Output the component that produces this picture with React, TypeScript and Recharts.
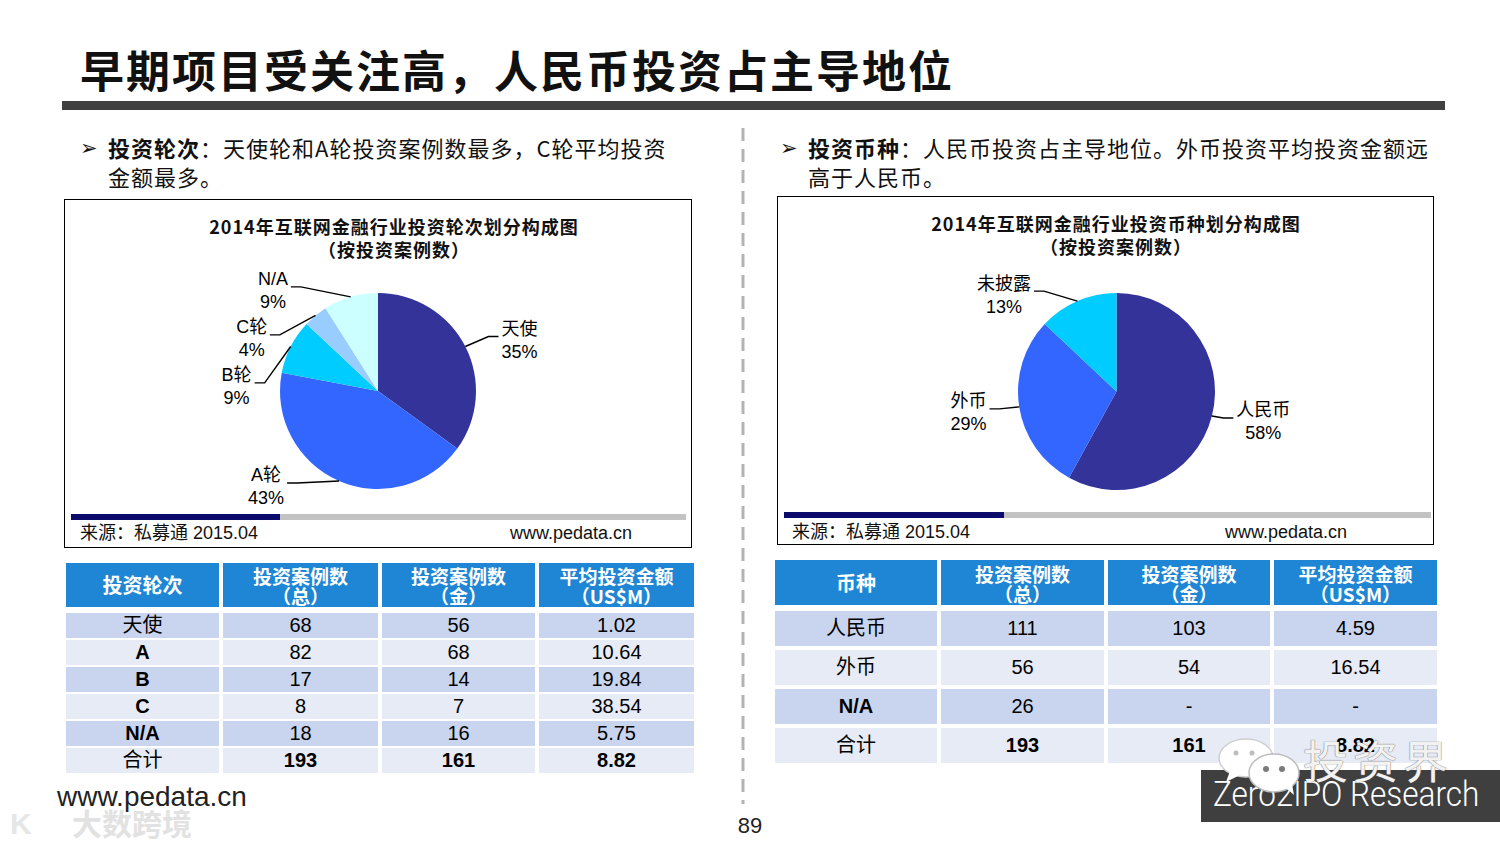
import React from 'react';
import { PieChart, Pie, Cell } from 'recharts';

// ---------------- data ----------------
const pageTitle = '早期项目受关注高，人民币投资占主导地位';

const leftBulletBold = '投资轮次';
const leftBulletLines = ['：天使轮和A轮投资案例数最多，C轮平均投资', '金额最多。'];
const rightBulletBold = '投资币种';
const rightBulletLines = ['：人民币投资占主导地位。外币投资平均投资金额远', '高于人民币。'];

const roundChartTitle = ['2014年互联网金融行业投资轮次划分构成图', '（按投资案例数）'];
const roundNames = ['天使', 'A轮', 'B轮', 'C轮', 'N/A'];
const roundShares = [35, 43, 9, 4, 9];
const roundColors = ['#333399', '#3366FF', '#00CCFF', '#99CCFF', '#CCFFFF'];

const currencyChartTitle = ['2014年互联网金融行业投资币种划分构成图', '（按投资案例数）'];
const currencyNames = ['人民币', '外币', '未披露'];
const currencyShares = [58, 29, 13];
const currencyColors = ['#333399', '#3366FF', '#00CCFF'];

const sourceText = '来源：私募通 2015.04';
const siteText = 'www.pedata.cn';

const roundTableHeader = ['投资轮次', '投资案例数\n（总）', '投资案例数\n（金）', '平均投资金额\n（US$M）'];
const roundRows = ['天使', 'A', 'B', 'C', 'N/A', '合计'];
const roundTotal = ['68', '82', '17', '8', '18', '193'];
const roundDisclosed = ['56', '68', '14', '7', '16', '161'];
const roundAvg = ['1.02', '10.64', '19.84', '38.54', '5.75', '8.82'];

const currencyTableHeader = ['币种', '投资案例数\n（总）', '投资案例数\n（金）', '平均投资金额\n（US$M）'];
const currencyRows = ['人民币', '外币', 'N/A', '合计'];
const currencyTotal = ['111', '56', '26', '193'];
const currencyDisclosed = ['103', '54', '-', '161'];
const currencyAvg = ['4.59', '16.54', '-', '8.82'];

const pageNumber = '89';

// ---------------- styles ----------------
const CJK = '"Noto Sans CJK SC", "Noto Sans", sans-serif';
const SANS = '"Liberation Sans", Arial, "Noto Sans CJK SC", sans-serif';
const HEADER_BLUE = '#1E86D4';
const ROW_DARK = '#C9D5EE';
const ROW_LIGHT = '#E6EBF6';

function textW(s: string, fs: number) {
  let w = 0;
  for (const ch of s) {
    if (/[\u3000-\u9fff\uff00-\uffef]/.test(ch)) w += fs;
    else if (ch === '%') w += 0.89 * fs;
    else if (ch === '/') w += 0.28 * fs;
    else if (/[A-Z]/.test(ch)) w += 0.68 * fs;
    else w += 0.556 * fs;
  }
  return w;
}

type LabelItem = { side: number; w: number; ex: number; ey: number; lx: number; ly: number };

function layoutLabels(shares: number[], names: string[], cx: number, cy: number, r: number, fs: number): LabelItem[] {
  const total = shares.reduce((a, b) => a + b, 0);
  let start = 90;
  const items: LabelItem[] = shares.map((v, i) => {
    const sweep = (v / total) * 360;
    const mid = start - sweep / 2;
    start -= sweep;
    const rad = (mid * Math.PI) / 180;
    const c = Math.cos(rad);
    const s = Math.sin(rad);
    const side = c >= 0 ? 1 : -1;
    const w = Math.max(textW(names[i], fs), textW(`${v}%`, fs));
    return {
      side,
      w,
      ex: cx + r * c,
      ey: cy - r * s,
      lx: cx + side * (0.9 * r + 0.61 * r * Math.abs(c)),
      ly: cy - r * s - Math.sign(s) * 6,
    };
  });
  const GAP = 48;
  [1, -1].forEach((side) => {
    const list = items.filter((it) => it.side === side).sort((a, b) => a.ly - b.ly);
    for (let j = 1; j < list.length; j++) {
      list[j].ly = Math.max(list[j].ly, list[j - 1].ly + GAP);
    }
  });
  return items;
}

function makeLabel(names: string[], shares: number[]) {
  const FS = 18;
  return (props: any) => {
    const { cx, cy, outerRadius, index } = props;
    const layout = layoutLabels(shares, names, cx, cy, outerRadius, FS);
    const L = layout[index];
    const p2x = L.lx - L.side * (L.w / 2 + 3);
    const p1x = p2x - L.side * 10;
    const py = L.ly - 4;
    return (
      <g>
        <polyline points={`${L.ex},${L.ey} ${p1x},${py} ${p2x},${py}`} fill="none" stroke="#000" strokeWidth={1.4} />
        <text x={L.lx} y={L.ly - 11.5} textAnchor="middle" dominantBaseline="central" fontSize={FS} fontFamily={SANS} fill="#000">
          {names[index]}
        </text>
        <text x={L.lx} y={L.ly + 11.5} textAnchor="middle" dominantBaseline="central" fontSize={FS} fontFamily={SANS} fill="#000">
          {`${shares[index]}%`}
        </text>
      </g>
    );
  };
}

type ChartBoxProps = {
  left: number; top: number; width: number; height: number;
  title: string[]; titleCenter: number;
  names: string[]; shares: number[]; colors: string[];
  pcx: number; pcy: number; r: number;
  barTop: number; barLeft: number; barDark: number; barRight: number;
  srcTop: number; srcLeft: number; siteLeft: number;
};

function ChartBox(p: ChartBoxProps) {
  const data = p.names.map((n, i) => ({ name: n, value: p.shares[i] }));
  const iw = p.width - 2;
  const ih = p.height - 2;
  return (
    <div style={{ position: 'absolute', left: p.left, top: p.top, width: iw, height: ih, border: '1px solid #000', background: '#fff' }}>
      <div style={{ position: 'absolute', left: p.titleCenter - 260, top: 15, width: 520, textAlign: 'center', fontFamily: CJK, fontWeight: 700, fontSize: 18, lineHeight: '23px', letterSpacing: 1, color: '#111', whiteSpace: 'nowrap' }}>
        {p.title[0]}<br />{p.title[1]}
      </div>
      <div style={{ position: 'absolute', left: 0, top: 0 }}>
        <PieChart width={iw} height={ih} margin={{ top: 0, right: 0, bottom: 0, left: 0 }}>
          <Pie
            data={data}
            dataKey="value"
            nameKey="name"
            cx={p.pcx}
            cy={p.pcy}
            outerRadius={p.r}
            startAngle={90}
            endAngle={-270}
            stroke="none"
            strokeWidth={0}
            isAnimationActive={false}
            labelLine={false}
            label={makeLabel(p.names, p.shares)}
          >
            {data.map((d, i) => (
              <Cell key={d.name} fill={p.colors[i]} stroke="none" />
            ))}
          </Pie>
        </PieChart>
      </div>
      <div style={{ position: 'absolute', left: p.barLeft, top: p.barTop, width: p.barDark - p.barLeft, height: 6, background: '#0B0B6B' }} />
      <div style={{ position: 'absolute', left: p.barDark, top: p.barTop, width: p.barRight - p.barDark, height: 6, background: '#C3C3C3' }} />
      <div style={{ position: 'absolute', left: p.srcLeft, top: p.srcTop, fontFamily: SANS, fontSize: 18, lineHeight: '20px', color: '#111', whiteSpace: 'nowrap' }}>{sourceText}</div>
      <div style={{ position: 'absolute', left: p.siteLeft, top: p.srcTop, fontFamily: SANS, fontSize: 18, lineHeight: '20px', color: '#111', whiteSpace: 'nowrap' }}>{siteText}</div>
    </div>
  );
}

type TableProps = {
  left: number; top: number; colW: number[]; colGap: number;
  headerH: number; headPad: number; firstGap: number; rowH: number; rowGap: number;
  header: string[]; firstCol: string[]; cols: string[][];
};

function DataTable(t: TableProps) {
  const colX: number[] = [];
  let acc = 0;
  t.colW.forEach((w) => { colX.push(acc); acc += w + t.colGap; });
  const cells: React.ReactNode[] = [];
  t.header.forEach((h, ci) => {
    const lines = h.split('\n');
    cells.push(
      <div key={`h${ci}`} style={{ position: 'absolute', left: colX[ci], top: 0, width: t.colW[ci], height: t.headerH, background: HEADER_BLUE, color: '#fff', textAlign: 'center', fontFamily: CJK, fontWeight: 700, fontSize: lines.length > 1 ? 19 : 20, boxSizing: 'border-box', paddingTop: lines.length > 1 ? t.headPad : 0, lineHeight: lines.length > 1 ? '20px' : `${t.headerH}px`, whiteSpace: 'nowrap' }}>
        {lines.map((l, k) => (<div key={k}>{l}</div>))}
      </div>
    );
  });
  const last = t.firstCol.length - 1;
  t.firstCol.forEach((name, ri) => {
    const top = t.headerH + t.firstGap + ri * (t.rowH + t.rowGap);
    const bg = ri % 2 === 0 ? ROW_DARK : ROW_LIGHT;
    const vals = [name, ...t.cols.map((c) => c[ri])];
    vals.forEach((v, ci) => {
      const latin = /^[A-Za-z/]+$/.test(v);
      const bold = (ci === 0 && latin) || (ci > 0 && ri === last);
      cells.push(
        <div key={`r${ri}c${ci}`} style={{ position: 'absolute', left: colX[ci], top, width: t.colW[ci], height: t.rowH, background: bg, textAlign: 'center', lineHeight: `${t.rowH}px`, fontFamily: SANS, fontSize: 20, fontWeight: bold ? 700 : 400, color: '#000', whiteSpace: 'nowrap' }}>
          {v}
        </div>
      );
    });
  });
  return <div style={{ position: 'absolute', left: t.left, top: t.top }}>{cells}</div>;
}

function Bullet({ left, top, bold, lines }: { left: number; top: number; bold: string; lines: string[] }) {
  return (
    <>
      <div style={{ position: 'absolute', left: left, top: top, fontFamily: '"DejaVu Sans", sans-serif', fontSize: 21, lineHeight: '30px', color: '#111' }}>➢</div>
      <div style={{ position: 'absolute', left: left + 28, top, fontFamily: CJK, fontSize: 22, lineHeight: '29px', letterSpacing: 1, color: '#111', whiteSpace: 'nowrap' }}>
        <span style={{ fontWeight: 700 }}>{bold}</span>
        {lines[0]}
        <br />
        {lines[1]}
      </div>
    </>
  );
}

function WeChatIcon() {
  return (
    <svg style={{ position: 'absolute', left: 1216, top: 738 }} width={86} height={58}>
      <ellipse cx={30} cy={20} rx={27} ry={19} fill="#fff" stroke="#cfcfcf" strokeWidth={1.5} />
      <path d="M14 33 L10 44 L24 37 Z" fill="#fff" />
      <circle cx={20} cy={15} r={2.5} fill="#bdbdbd" />
      <circle cx={36} cy={15} r={2.5} fill="#bdbdbd" />
      <ellipse cx={58} cy={35} rx={25} ry={19} fill="#fff" stroke="#bdbdbd" strokeWidth={1.5} />
      <path d="M70 50 L78 57 L76 46 Z" fill="#fff" />
      <circle cx={50} cy={31} r={3} fill="#7a7a7a" />
      <circle cx={66} cy={31} r={3} fill="#7a7a7a" />
    </svg>
  );
}

export default function App() {
  return (
    <div style={{ position: 'absolute', left: 0, top: 0, width: 1500, height: 844, background: '#fff', overflow: 'hidden', fontFamily: SANS }}>
      {/* page title */}
      <div style={{ position: 'absolute', left: 80, top: 47, fontFamily: CJK, fontWeight: 700, fontSize: 44, lineHeight: '44px', letterSpacing: 2, color: '#111', whiteSpace: 'nowrap' }}>{pageTitle}</div>
      <div style={{ position: 'absolute', left: 62, top: 101, width: 1383, height: 9, background: '#404040' }} />

      {/* dashed separator */}
      <svg style={{ position: 'absolute', left: 738, top: 126 }} width={10} height={680}>
        <line x1={5} y1={2} x2={5} y2={678} stroke="#b3b3b3" strokeWidth={3} strokeDasharray="13 8" />
      </svg>

      <Bullet left={80} top={133} bold={leftBulletBold} lines={leftBulletLines} />
      <Bullet left={780} top={133} bold={rightBulletBold} lines={rightBulletLines} />

      <ChartBox
        left={64} top={199} width={628} height={349}
        title={roundChartTitle} titleCenter={329}
        names={roundNames} shares={roundShares} colors={roundColors}
        pcx={313} pcy={191} r={98}
        barTop={314} barLeft={6} barDark={215} barRight={621}
        srcTop={323} srcLeft={15} siteLeft={445}
      />
      <ChartBox
        left={777} top={196} width={657} height={349}
        title={currencyChartTitle} titleCenter={338}
        names={currencyNames} shares={currencyShares} colors={currencyColors}
        pcx={338.5} pcy={194.5} r={98.5}
        barTop={315} barLeft={6} barDark={226} barRight={653}
        srcTop={325} srcLeft={14} siteLeft={447}
      />

      <DataTable
        left={66} top={563} colW={[153, 155, 153, 155]} colGap={4}
        headerH={44} headPad={3} firstGap={6} rowH={25} rowGap={2}
        header={roundTableHeader} firstCol={roundRows} cols={[roundTotal, roundDisclosed, roundAvg]}
      />
      <DataTable
        left={775} top={560} colW={[162, 163, 162, 163]} colGap={4}
        headerH={45} headPad={4} firstGap={6} rowH={35} rowGap={4}
        header={currencyTableHeader} firstCol={currencyRows} cols={[currencyTotal, currencyDisclosed, currencyAvg]}
      />

      {/* footer */}
      <div style={{ position: 'absolute', left: 57, top: 782, fontFamily: SANS, fontSize: 28, lineHeight: '30px', color: '#222', whiteSpace: 'nowrap' }}>www.pedata.cn</div>
      <div style={{ position: 'absolute', left: 10, top: 808, fontFamily: SANS, fontSize: 30, lineHeight: '32px', fontWeight: 700, color: '#e6e6e6', whiteSpace: 'nowrap' }}>K</div>
      <div style={{ position: 'absolute', left: 72, top: 806, fontFamily: CJK, fontSize: 30, lineHeight: '32px', fontWeight: 700, color: '#e2e2e2', whiteSpace: 'nowrap', textShadow: '0 0 1px #fff' }}>大数跨境</div>
      <div style={{ position: 'absolute', left: 700, top: 814, width: 100, textAlign: 'center', fontFamily: SANS, fontSize: 22, lineHeight: '24px', color: '#222' }}>{pageNumber}</div>

      {/* watermark bottom right */}
      <div style={{ position: 'absolute', left: 1201, top: 770, width: 299, height: 52, background: '#3f3f3f' }} />
      <div style={{ position: 'absolute', left: 1213, top: 777, fontFamily: 'Roboto, "Liberation Sans", sans-serif', fontWeight: 300, fontSize: 35, lineHeight: '36px', color: '#fff', whiteSpace: 'nowrap', transform: 'scaleX(0.9)', transformOrigin: 'left center' }}>Zero2IPO Research</div>
      <WeChatIcon />
      <div style={{ position: 'absolute', left: 1303, top: 736, fontFamily: CJK, fontSize: 45, lineHeight: '48px', letterSpacing: 5, color: 'rgba(255,255,255,0.92)', whiteSpace: 'nowrap', textShadow: '0 0 1px #777, 0 0 1px #777' }}>投资界</div>
    </div>
  );
}
